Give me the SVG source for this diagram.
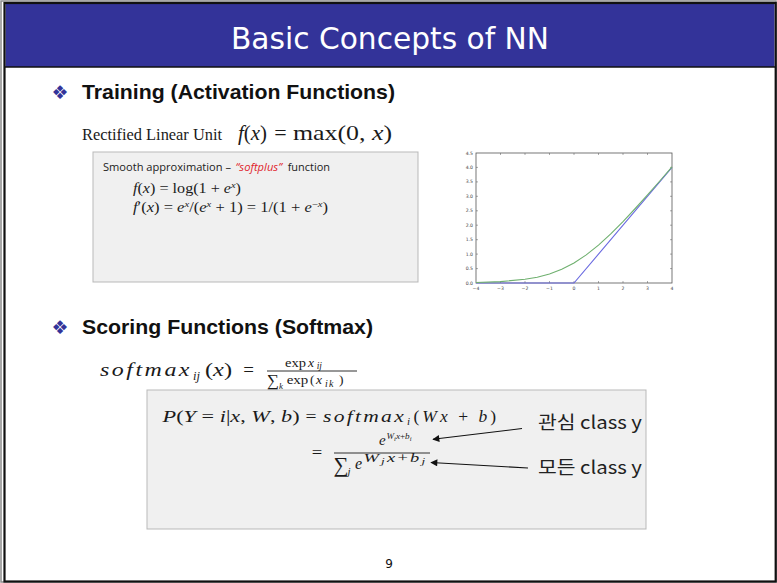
<svg xmlns="http://www.w3.org/2000/svg" width="777" height="583" viewBox="0 0 777 583">
  <defs>
    <style>
      .ser{font-family:"Liberation Serif","DejaVu Serif",serif;fill:#1a1a1a}
      .it{font-style:italic}
      .hd{font-family:"Liberation Sans",Arial,sans-serif;font-weight:bold;font-size:21px;fill:#111}
      .bul{font-family:"DejaVu Sans",sans-serif;font-size:19px;fill:#333399}
      .tick{font-family:"DejaVu Sans",sans-serif;font-size:4.6px;fill:#444}
      .kr{font-family:"Noto Sans CJK KR",sans-serif;font-size:18px;fill:#222}
      .panel{fill:#f0f0f0;stroke:#b9b9b9;stroke-width:1}
      .conn{stroke:#111;stroke-width:1.1;fill:none}
    </style>
    <marker id="head" viewBox="0 0 10 10" refX="9" refY="5" markerWidth="9" markerHeight="7" markerUnits="userSpaceOnUse" orient="auto">
      <path d="M0,0 L10,5 L0,10 z" fill="#111"/>
    </marker>
  </defs>

  <!-- slide background and frame -->
  <rect x="0" y="0" width="777" height="583" fill="#ffffff"/>
  <rect x="1" y="1" width="775" height="581" fill="none" stroke="#8c8c8c" stroke-width="1.5"/>
  <rect x="5.5" y="4" width="769" height="63" fill="#333399"/>
  <line x1="4.5" y1="67" x2="775.5" y2="67" stroke="#111" stroke-width="1.6"/>
  <rect x="4.5" y="3" width="771.2" height="578.5" fill="none" stroke="#111" stroke-width="2.2"/>

  <g id="title">
    <text x="390" y="48.5" text-anchor="middle" font-family="DejaVu Sans, sans-serif" font-size="30" fill="#ffffff" textLength="318" lengthAdjust="spacingAndGlyphs">Basic Concepts of NN</text>
  </g>

  <!-- section 1: activation functions -->
  <g id="heading-training">
    <text class="bul" x="60" y="99" text-anchor="middle">❖</text>
    <text class="hd" x="82" y="99.3" textLength="313" lengthAdjust="spacingAndGlyphs">Training (Activation Functions)</text>
  </g>

  <g id="relu">
    <text class="ser" x="82" y="140" font-size="16" textLength="140" lengthAdjust="spacingAndGlyphs">Rectified Linear Unit</text>
    <text class="ser" x="238" y="140" font-size="22" textLength="29" lengthAdjust="spacingAndGlyphs"><tspan class="it">f</tspan>(<tspan class="it">x</tspan>)</text>
    <text class="ser" x="280.5" y="140" font-size="22" text-anchor="middle">=</text>
    <text class="ser" x="293" y="140" font-size="22" textLength="99" lengthAdjust="spacingAndGlyphs">max(0, <tspan class="it">x</tspan>)</text>
  </g>

  <g id="softplus-box">
    <rect class="panel" x="93" y="152" width="325" height="130"/>
    <text x="103" y="171" font-family="Open Sans, sans-serif" font-size="11.5" fill="#222" textLength="128" lengthAdjust="spacingAndGlyphs">Smooth approximation –</text>
    <text x="235.5" y="171" font-family="Open Sans, sans-serif" font-size="11.5" font-style="italic" fill="#e0242c" textLength="46.5" lengthAdjust="spacingAndGlyphs">“softplus”</text>
    <text x="287.7" y="171" font-family="Open Sans, sans-serif" font-size="11.5" fill="#222" textLength="42.3" lengthAdjust="spacingAndGlyphs">function</text>
    <text class="ser" x="133" y="193" font-size="14" textLength="108" lengthAdjust="spacingAndGlyphs"><tspan class="it">f</tspan>(<tspan class="it">x</tspan>) = log(1 + <tspan class="it">e</tspan><tspan class="it" font-size="9" dy="-5">x</tspan><tspan dy="5">)</tspan></text>
    <text class="ser" x="133" y="212" font-size="14" textLength="195" lengthAdjust="spacingAndGlyphs"><tspan class="it">f</tspan>′(<tspan class="it">x</tspan>) = <tspan class="it">e</tspan><tspan class="it" font-size="9" dy="-5">x</tspan><tspan dy="5">/(</tspan><tspan class="it">e</tspan><tspan class="it" font-size="9" dy="-5">x</tspan><tspan dy="5"> + 1) = 1/(1 + </tspan><tspan class="it">e</tspan><tspan font-size="9" dy="-5">−</tspan><tspan class="it" font-size="9">x</tspan><tspan dy="5">)</tspan></text>
  </g>

  <g id="softplus-plot">
    <rect x="476" y="153" width="196" height="130" fill="#ffffff" stroke="#555" stroke-width="0.8"/>
    <!-- tick marks -->
    <g stroke="#555" stroke-width="0.5">
      <path d="M500.5,283v-2M525,283v-2M549.5,283v-2M574,283v-2M598.5,283v-2M623,283v-2M647.5,283v-2"/>
      <path d="M500.5,153v2M525,153v2M549.5,153v2M574,153v2M598.5,153v2M623,153v2M647.5,153v2"/>
      <path d="M476,268.6h2M476,254.1h2M476,239.7h2M476,225.2h2M476,210.8h2M476,196.3h2M476,181.9h2M476,167.4h2"/>
      <path d="M672,268.6h-2M672,254.1h-2M672,239.7h-2M672,225.2h-2M672,210.8h-2M672,196.3h-2M672,181.9h-2M672,167.4h-2"/>
    </g>
    <g class="tick" text-anchor="end">
      <text x="473" y="284.5">0.0</text>
      <text x="473" y="270.1">0.5</text>
      <text x="473" y="255.6">1.0</text>
      <text x="473" y="241.2">1.5</text>
      <text x="473" y="226.7">2.0</text>
      <text x="473" y="212.3">2.5</text>
      <text x="473" y="197.8">3.0</text>
      <text x="473" y="183.4">3.5</text>
      <text x="473" y="168.9">4.0</text>
      <text x="473" y="154.5">4.5</text>
    </g>
    <g class="tick" text-anchor="middle">
      <text x="476" y="290">−4</text>
      <text x="500.5" y="290">−3</text>
      <text x="525" y="290">−2</text>
      <text x="549.5" y="290">−1</text>
      <text x="574" y="290">0</text>
      <text x="598.5" y="290">1</text>
      <text x="623" y="290">2</text>
      <text x="647.5" y="290">3</text>
      <text x="672" y="290">4</text>
    </g>
    <polyline points="476,283 574,283 672,167.4" fill="none" stroke="#6a6ae0" stroke-width="1.1"/>
    <polyline points="476,282.5 500.5,281.6 525,279.3 537.25,277.2 549.5,274 561.75,269.3 574,263 586.25,254.9 598.5,245.1 610.75,233.9 623,221.6 635.25,208.5 647.5,194.9 659.75,181 672,166.9" fill="none" stroke="#6fb06f" stroke-width="1.1"/>
  </g>

  <!-- section 2: softmax -->
  <g id="heading-scoring">
    <text class="bul" x="60" y="334" text-anchor="middle">❖</text>
    <text class="hd" x="82" y="334.3" textLength="291" lengthAdjust="spacingAndGlyphs">Scoring Functions (Softmax)</text>
  </g>

  <g id="softmax-def">
    <text class="ser it" x="100" y="376" font-size="19" letter-spacing="2" textLength="92" lengthAdjust="spacingAndGlyphs">softmax</text>
    <text class="ser it" x="193" y="380" font-size="12.5">ij</text>
    <text class="ser" x="205" y="376" font-size="19" textLength="27" lengthAdjust="spacingAndGlyphs">(<tspan class="it">x</tspan>)</text>
    <text class="ser" x="248.5" y="376" font-size="19" text-anchor="middle">=</text>
    <text class="ser" x="285" y="366.5" font-size="13.5" textLength="21" lengthAdjust="spacingAndGlyphs">exp</text>
    <text class="ser it" x="308" y="366.5" font-size="13.5">x</text>
    <text class="ser it" x="316.7" y="369" font-size="9.5">ij</text>
    <line x1="267" y1="371" x2="357" y2="371" stroke="#1a1a1a" stroke-width="0.9"/>
    <text class="ser" x="266.7" y="386" font-size="17">∑</text>
    <text class="ser it" x="279" y="388.5" font-size="9">k</text>
    <text class="ser" x="286.7" y="384" font-size="13.5" textLength="21.6" lengthAdjust="spacingAndGlyphs">exp</text>
    <text class="ser" x="310" y="384" font-size="13.5">(</text>
    <text class="ser it" x="316" y="384" font-size="13.5">x</text>
    <text class="ser it" x="325" y="387" font-size="10" letter-spacing="1.2">ik</text>
    <text class="ser" x="339" y="384" font-size="13.5">)</text>
  </g>

  <g id="likelihood-box">
    <rect class="panel" x="147" y="390" width="499" height="139" stroke="#a8a8a8"/>
    <text class="ser" x="162.6" y="421.5" font-size="17.5" textLength="137" lengthAdjust="spacingAndGlyphs"><tspan class="it">P</tspan>(<tspan class="it">Y</tspan> = <tspan class="it">i</tspan>|<tspan class="it">x</tspan>, <tspan class="it">W</tspan>, <tspan class="it">b</tspan>)</text>
    <text class="ser" x="305.5" y="421.5" font-size="17" textLength="11" lengthAdjust="spacingAndGlyphs">=</text>
    <text class="ser it" x="323" y="421.5" font-size="17" letter-spacing="1.8" textLength="83" lengthAdjust="spacingAndGlyphs">softmax</text>
    <text class="ser it" x="407" y="425" font-size="11">i</text>
    <text class="ser" x="413.5" y="421.5" font-size="17.5" textLength="82.5" lengthAdjust="spacing">(<tspan class="it">Wx</tspan> + <tspan class="it">b</tspan>)</text>
    <text class="ser" x="311.7" y="458" font-size="17" textLength="10.5" lengthAdjust="spacingAndGlyphs">=</text>
    <text class="ser it" x="379" y="445" font-size="15">e</text>
    <text class="ser it" x="386.5" y="439" font-size="9" textLength="25" lengthAdjust="spacingAndGlyphs">W<tspan font-size="6.5" dy="1.5">i</tspan><tspan dy="-1.5">x</tspan><tspan font-style="normal">+</tspan>b<tspan font-size="6.5" dy="1.5">i</tspan></text>
    <line x1="334" y1="453" x2="430" y2="453" stroke="#1a1a1a" stroke-width="0.9"/>
    <text class="ser" x="333.5" y="472" font-size="21">∑</text>
    <text class="ser it" x="347.5" y="475" font-size="11">j</text>
    <text class="ser it" x="355" y="468.5" font-size="16">e</text>
    <text class="ser it" x="363.5" y="461.5" font-size="12.5" letter-spacing="1.5" textLength="64" lengthAdjust="spacingAndGlyphs">W<tspan font-size="9" dy="2">j</tspan><tspan dy="-2">x</tspan><tspan font-style="normal">+</tspan>b<tspan font-size="9" dy="2">j</tspan></text>
  </g>

  <g id="label-target-class">
    <text class="kr" x="538" y="429" textLength="104" lengthAdjust="spacingAndGlyphs">관심 class y</text>
  </g>
  <g id="label-all-classes">
    <text class="kr" x="538" y="473.5" textLength="104" lengthAdjust="spacingAndGlyphs">모든 class y</text>
  </g>

  <g id="connectors">
    <line class="conn" x1="522" y1="428.5" x2="433" y2="439.3" marker-end="url(#head)"/>
    <line class="conn" x1="528" y1="468" x2="431" y2="462.5" marker-end="url(#head)"/>
  </g>

  <g id="page-number">
    <text x="389" y="568" text-anchor="middle" font-family="DejaVu Sans, sans-serif" font-size="12" fill="#111">9</text>
  </g>
</svg>
